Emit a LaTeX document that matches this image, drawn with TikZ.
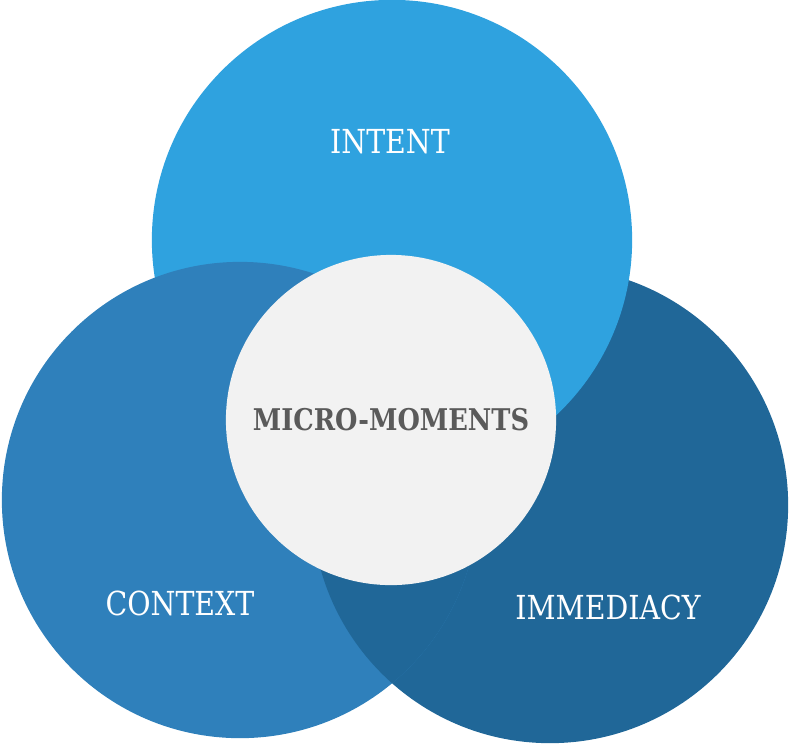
\documentclass[tikz,border=0pt]{standalone}
\usepackage{fontspec}
\newfontfamily\slab[FakeStretch=0.86]{DejaVu Serif}
\usepackage{xcolor}
\usetikzlibrary{positioning}
\definecolor{intc}{RGB}{47,162,223}
\definecolor{ctxc}{RGB}{47,128,187}
\definecolor{immc}{RGB}{32,103,152}
\definecolor{midc}{RGB}{242,242,242}
\definecolor{txtc}{RGB}{90,90,90}

\begin{document}
\begin{tikzpicture}[x=0.01cm,y=-0.01cm,
  disc/.style={circle,inner sep=0pt,draw=none},
  lbl/.style={text=white,inner sep=0pt,font=\slab\fontsize{9.4}{10}\selectfont}]
  \useasboundingbox (0,0) rectangle (800,744);
  % the three overlapping circles, drawn in a cycle
  \node[disc,fill=immc,minimum size=4.76cm] (N2) at (550,505) {};
  \node[disc,fill=intc,minimum size=4.8cm] (N0) at (392,240) {};
  \node[disc,fill=ctxc,minimum size=4.76cm] (N1) at (240,500) {};
  \begin{scope}
    \clip (N1.center) circle[radius=2.38cm];
    \fill[immc] (N2.center) circle[radius=2.38cm];
  \end{scope}
  \node[disc,fill=midc,minimum size=3.3cm] (N3) at (391,420) {};
  % labels
  \node[lbl] (L0) at (390,142) {INTENT};
  \node[lbl] (L1) at (180,603) {CONTEXT};
  \node[lbl] (L2) at (608,607) {IMMEDIACY};
  \node[lbl,text=txtc,font=\slab\bfseries\fontsize{8.5}{10}\selectfont] (L3) at (N3.center) {MICRO-MOMENTS};
\end{tikzpicture}
\end{document}
